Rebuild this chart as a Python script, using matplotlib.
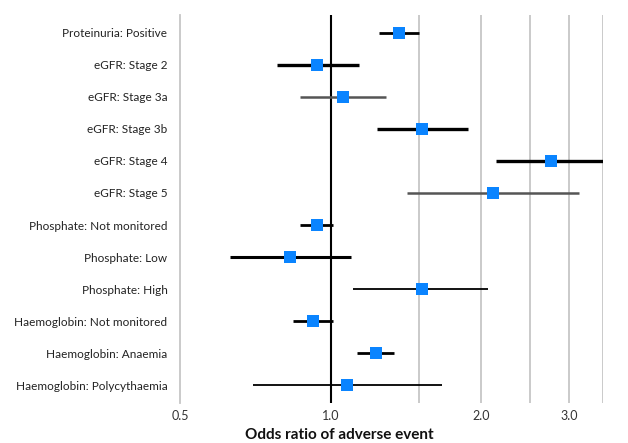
import numpy as np
import matplotlib
matplotlib.use("Agg")
import matplotlib.pyplot as plt

# Forest plot data (odds ratios with 95% CI)
labels = [
    "Proteinuria: Positive",
    "eGFR: Stage 2",
    "eGFR: Stage 3a",
    "eGFR: Stage 3b",
    "eGFR: Stage 4",
    "eGFR: Stage 5",
    "Phosphate: Not monitored",
    "Phosphate: Low",
    "Phosphate: High",
    "Haemoglobin: Not monitored",
    "Haemoglobin: Anaemia",
    "Haemoglobin: Polycythaemia",
]
odds = [1.37, 0.94, 1.06, 1.52, 2.75, 2.11, 0.94, 0.83, 1.52, 0.92, 1.23, 1.08]
ci_low = [1.25, 0.78, 0.87, 1.24, 2.14, 1.42, 0.87, 0.63, 1.11, 0.84, 1.13, 0.70]
ci_high = [1.50, 1.14, 1.29, 1.88, 3.50, 3.14, 1.01, 1.10, 2.06, 1.01, 1.34, 1.67]

tick_values = [0.5, 1.0, 2.0, 3.0]
grid_values = [1.5, 2.0, 2.5, 3.0, 3.5]

# line style of each CI bar
line_colors = ["black", "black", "#555555", "black", "black", "#555555",
               "black", "black", "black", "black", "black", "black"]
line_widths = [2.0, 2.4, 1.8, 2.4, 2.4, 1.8, 2.0, 2.2, 1.3, 2.0, 2.0, 1.3]

plt.rcParams["font.family"] = ["Lato", "DejaVu Sans"]

fig = plt.figure(figsize=(6.28, 4.43), dpi=100)
ax = fig.add_axes([180 / 628, 1 - 403 / 443, 423 / 628, 388 / 443])

ax.set_xscale("log")
ax.set_xlim(0.5, 3.5)
y = np.arange(1, len(labels) + 1)
ax.set_ylim(12.55, 0.45)

for g in grid_values:
    ax.axvline(g, color="#c6c6c6", lw=1.3, zorder=0)
ax.axvline(1.0, color="black", lw=1.5, zorder=1)

for i in range(len(labels)):
    ax.plot([ci_low[i], ci_high[i]], [y[i], y[i]], color=line_colors[i],
            lw=line_widths[i], solid_capstyle="butt", zorder=2)
ax.scatter(odds, y, marker="s", s=72, color="#0A84FF", zorder=3, linewidths=0)

ax.set_yticks(y)
ax.set_yticklabels(labels, fontsize=8.5, color="#222222")
ax.set_xticks(tick_values)
ax.set_xticklabels(["0.5", "1.0", "2.0", "3.0"], fontsize=9, color="#333333")
ax.xaxis.set_minor_locator(matplotlib.ticker.NullLocator())
ax.tick_params(axis="both", length=0)
ax.tick_params(axis="y", pad=9)
ax.tick_params(axis="x", pad=5)

for side in ["top", "right", "bottom"]:
    ax.spines[side].set_visible(False)
ax.spines["left"].set_color("#c6c6c6")
ax.spines["left"].set_linewidth(1.3)

fig.text(339 / 628, 1 - 435 / 443, "Odds ratio of adverse event",
         ha="center", va="center", fontsize=11, fontweight="bold", color="#111111")

fig.savefig("out.png", dpi=100)
